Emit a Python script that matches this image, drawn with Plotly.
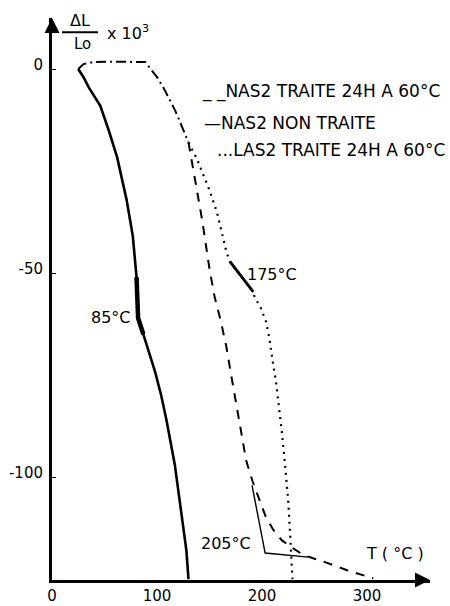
import plotly.graph_objects as go

# ---- data ----
# shared initial part of the two treated samples (dash-dot)
common_T = [25, 30, 39, 60, 89, 100, 106, 112, 117, 122, 126, 130]
common_dl = [0, 1.2, 1.7, 1.8, 1.7, -2, -4.5, -7.6, -10, -13, -15.5, -18]

# NAS2 NON TRAITE (solid)
solid_T = [25, 30, 35, 40, 46, 54, 62, 71, 77, 80.5, 82, 87, 92, 98, 104, 109, 117, 124, 128, 130]
solid_dl = [0, -2, -4.5, -6.5, -9, -15, -21.6, -32, -41, -51, -61, -65, -69, -74, -80, -86, -97, -110, -118, -125]

# NAS2 TRAITE 24H A 60°C (dashed)
dashed_T = [130, 134, 139, 143, 150, 155, 161, 166, 172, 178, 185, 191, 198, 204, 211, 219, 227, 239, 250, 262, 281, 306]
dashed_dl = [-18, -24, -31, -37, -49, -56, -62, -68, -77, -86, -96, -101, -106, -110, -113, -115.5, -117, -119, -120, -121, -122.8, -124.8]

# LAS2 TRAITE 24H A 60°C (dotted)
dotted_T = [130, 138, 145, 150, 157, 162, 166.3, 169.5, 175, 180.6, 186, 191.7, 193.3, 198, 201, 204, 207, 209, 211, 213, 215, 217, 218.5, 222, 225, 227, 229]
dotted_dl = [-18, -22, -26.5, -29.7, -35, -40, -45, -47.2, -49.1, -50.9, -52.7, -54.6, -56.2, -58, -60, -62, -66, -70, -73, -76, -80, -84, -88, -97, -106, -115, -125]

# construction lines at the 205°C transition
tangent_T = [190.5, 203, 244]
tangent_dl = [-102, -118.6, -119.6]

# transition labels
trans_labels = ["85°C", "175°C", "205°C"]
x_ticks = [0, 100, 200, 300]
x_ticktext = ["0", "100", "200", "300"]
y_ticks = [0, -50, -100]
y_ticktext = ["0", "-50", "-100"]
legend_labels = ["_ _NAS2 TRAITE 24H A 60°C", "—NAS2 NON TRAITE", "...LAS2 TRAITE 24H A 60°C"]

FONT = "DejaVu Sans"
K = "black"

fig = go.Figure()
fig.add_trace(go.Scatter(x=common_T, y=common_dl, mode="lines",
                         line=dict(color=K, width=2, dash="10px,4px,2px,4px")))
fig.add_trace(go.Scatter(x=solid_T, y=solid_dl, mode="lines", line=dict(color=K, width=2.6)))
fig.add_trace(go.Scatter(x=dashed_T, y=dashed_dl, mode="lines",
                         line=dict(color=K, width=2, dash="9px,8px")))
fig.add_trace(go.Scatter(x=dotted_T, y=dotted_dl, mode="lines",
                         line=dict(color=K, width=2.2, dash="2px,5px")))
fig.add_trace(go.Scatter(x=tangent_T, y=tangent_dl, mode="lines", line=dict(color=K, width=1.4)))

# thick strokes marking the transitions (taken from the curves)
i0, i1 = solid_T.index(80.5), solid_T.index(87)
fig.add_trace(go.Scatter(x=solid_T[i0:i1 + 1], y=solid_dl[i0:i1 + 1], mode="lines",
                         line=dict(color=K, width=4.5)))
j0, j1 = dotted_T.index(169.5), dotted_T.index(191.7)
fig.add_trace(go.Scatter(x=dotted_T[j0:j1 + 1], y=dotted_dl[j0:j1 + 1], mode="lines",
                         line=dict(color=K, width=2.8)))

ann = []
lab_pos = [(77, -60.8, "right"), (184, -50.4, "left"), (191, -116.2, "right")]
for t, (x, y, a) in zip(trans_labels, lab_pos):
    ann.append(dict(x=x, y=y, text=t, showarrow=False, xanchor=a, yanchor="middle",
                    font=dict(size=16, family=FONT, color=K)))

leg_pos = [(141, -5.6), (143, -13.2), (155, -19.9)]
for t, (x, y) in zip(legend_labels, leg_pos):
    ann.append(dict(x=x, y=y, text=t, showarrow=False, xanchor="left", yanchor="middle",
                    font=dict(size=17, family=FONT, color=K)))

ann.append(dict(x=326.7, y=-118.6, text="T ( °C )", showarrow=False, xanchor="center",
                yanchor="middle", font=dict(size=16, family=FONT, color=K)))
# y axis title  ΔL / Lo x 10^3
ann.append(dict(x=26.7, y=9.3, text="ΔL", showarrow=False, xanchor="center", yanchor="bottom",
                borderpad=0, font=dict(size=16, family=FONT, color=K)))
ann.append(dict(x=29.5, y=8.7, text="Lo", showarrow=False, xanchor="center", yanchor="top",
                borderpad=0, font=dict(size=15, family=FONT, color=K)))
ann.append(dict(x=50, y=9.0, text="x 10<sup>3</sup>", showarrow=False, xanchor="left",
                yanchor="middle", font=dict(size=16, family=FONT, color=K)))
# axis arrows
ann.append(dict(xref="paper", yref="paper", x=1, y=0, ax=-14, ay=0, text="", showarrow=True,
                arrowhead=2, arrowsize=1.2, arrowwidth=2.5, arrowcolor=K))
ann.append(dict(xref="paper", yref="paper", x=0, y=1, ax=0, ay=14, text="", showarrow=True,
                arrowhead=2, arrowsize=1.2, arrowwidth=2.5, arrowcolor=K))

fig.update_layout(
    width=450, height=606,
    margin=dict(l=52, r=20, t=18, b=26, autoexpand=False),
    plot_bgcolor="white", paper_bgcolor="white",
    showlegend=False,
    annotations=ann,
    shapes=[dict(type="line", x0=9.5, x1=43.8, y0=9.0, y1=9.0, line=dict(color=K, width=2))],
    xaxis=dict(range=[0, 360], showgrid=False, zeroline=False, showline=True, linecolor=K,
               linewidth=3, tickvals=x_ticks, ticktext=x_ticktext, ticks="", ticklabelstandoff=0,
               automargin=False, tickfont=dict(size=15, family=FONT, color=K)),
    yaxis=dict(range=[-125.2, 12.5], showgrid=False, zeroline=False, showline=True, linecolor=K,
               linewidth=3, tickvals=y_ticks, ticktext=y_ticktext, ticks="inside", ticklen=4,
               tickcolor=K, ticklabelstandoff=3, ticklabelshift=-4, automargin=False,
               tickfont=dict(size=15, family=FONT, color=K)),
)

fig.write_html("out.html", config={"displayModeBar": False},
               post_script="document.body.style.margin='0';")
